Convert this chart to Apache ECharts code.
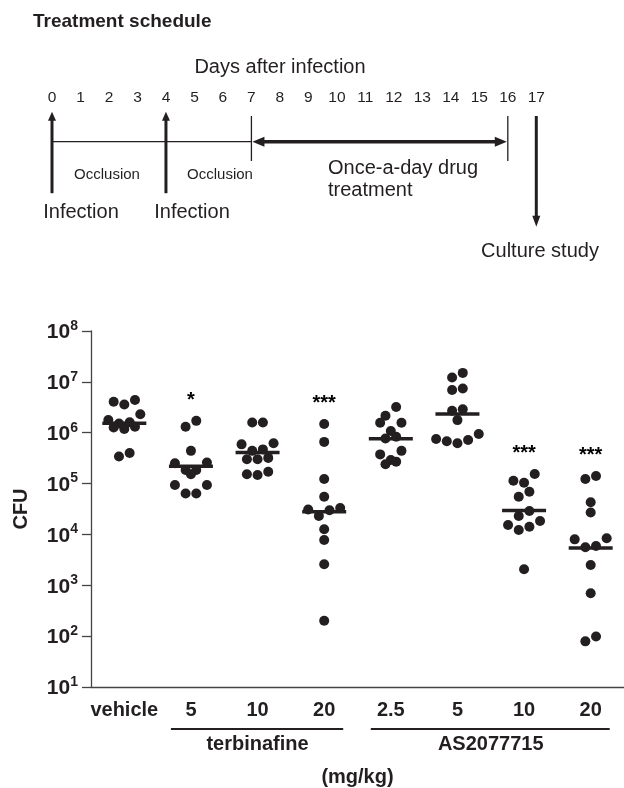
<!DOCTYPE html>
<html>
<head>
<meta charset="utf-8">
<script src="https://cdn.jsdelivr.net/npm/echarts/dist/echarts.min.js"></script>
<style>
  html, body { margin: 0; padding: 0; background: #fff; }
  #main { width: 624px; height: 788px; }
</style>
</head>
<body>
<div id="main"></div>
<script>
// data
var categories = ['vehicle', '5', '10', '20', '2.5', '5', '10', '20'];
var vehicle = [4.05e6, 4.4e6, 3.6e6, 2.3e6, 1.77e6, 1.6e6, 1.52e6, 1.31e6, 1.27e6, 1.18e6, 4.0e5, 3.4e5];
var terb5 = [1.71e6, 1.31e6, 4.4e5, 2.6e5, 2.5e5, 1.85e5, 1.85e5, 1.52e5, 9.4e4, 9.4e4, 6.4e4, 6.4e4];
var terb10 = [1.59e6, 1.59e6, 6.2e5, 5.9e5, 4.7e5, 4.4e5, 3.2e5, 3.0e5, 3.0e5, 1.71e5, 1.52e5, 1.47e5];
var terb20 = [1.48e6, 6.6e5, 1.23e5, 5.5e4, 3.3e4, 3.1e4, 3.0e4, 2.3e4, 1.26e4, 7.8e3, 2.6e3, 200];
var as2_5 = [3.2e6, 2.15e6, 1.57e6, 1.57e6, 1.08e6, 8.3e5, 7.7e5, 4.4e5, 3.75e5, 2.9e5, 2.7e5, 2.4e5];
var as5 = [1.5e7, 1.22e7, 7.4e6, 6.9e6, 2.9e6, 2.7e6, 1.77e6, 9.4e5, 7.5e5, 7.2e5, 6.8e5, 6.2e5];
var as10 = [1.54e5, 1.14e5, 1.04e5, 6.9e4, 5.5e4, 2.9e4, 2.3e4, 1.84e4, 1.53e4, 1.42e4, 1.22e4, 2.07e3];
var as20 = [1.41e5, 1.23e5, 4.3e4, 2.7e4, 8.4e3, 8.0e3, 5.9e3, 5.6e3, 2.5e3, 700, 98, 79];
var significance = ['', '*', '', '***', '', '', '***', '***'];
var groupNames = ['terbinafine', 'AS2077715'];
var groupFirst = [1, 4];
var groupLast = [3, 7];

// schedule (days after infection)
var days = ['0', '1', '2', '3', '4', '5', '6', '7', '8', '9', '10', '11', '12', '13', '14', '15', '16', '17'];
var infectionDays = [0, 4];
var occlusionSpan = [0, 7];
var treatmentSpan = [7, 16];
var cultureDay = 17;

var FONT = '"Liberation Sans", Arial, Helvetica, sans-serif';
var INK = '#231f20';
var all = [vehicle, terb5, terb10, terb20, as2_5, as5, as10, as20];

// prism-like column scatter: points that fall in one row are spread side by side
var BIN = 0.196;  // dot height in decades
var DX = 0.16;    // dot spacing in category units
function swarm(values, i) {
  var pts = values.map(function (v) { return { v: v, l: Math.log10(v) }; })
    .sort(function (a, b) { return b.l - a.l; });
  var out = [];
  var k = 0;
  while (k < pts.length) {
    var bin = [pts[k]];
    var j = k + 1;
    while (j < pts.length && pts[k].l - pts[j].l < BIN) { bin.push(pts[j]); j++; }
    bin.sort(function (a, b) { return a.l - b.l; });
    var n = bin.length, slots = [];
    for (var s = 0; s < n; s++) slots.push((s - (n - 1) / 2) * DX);
    slots.sort(function (a, b) { return Math.abs(a) - Math.abs(b) || a - b; });
    bin.forEach(function (p, q) { out.push([i + slots[q], p.v]); });
    k = j;
  }
  return out;
}

function geoMean(values) {
  var s = 0;
  values.forEach(function (v) { s += Math.log10(v); });
  return Math.pow(10, s / values.length);
}

var dots = [];
all.forEach(function (g, i) { dots = dots.concat(swarm(g, i)); });
var means = all.map(function (g, i) { return [i, geoMean(g)]; });
var stars = [];
significance.forEach(function (s, i) {
  if (s) stars.push({ name: s, value: [i, Math.max.apply(null, all[i])] });
});

var myChart = echarts.init(document.getElementById('main'));

var option = {
  animation: false,
  backgroundColor: '#fff',
  textStyle: { fontFamily: FONT, color: INK },
  grid: [
    { left: 91, top: 331, width: 534.5, height: 356.5 },
    { left: 52, top: 112, width: 484.3, height: 29.7 }
  ],
  xAxis: [
    {
      gridIndex: 0, type: 'category', data: categories, boundaryGap: true,
      axisLine: { onZero: false, lineStyle: { color: '#444', width: 1.3 } },
      axisTick: { alignWithLabel: true, length: 9, lineStyle: { color: '#444', width: 1.3 } },
      axisLabel: { interval: 0, margin: 13, fontSize: 20, fontWeight: 'bold', color: INK, fontFamily: FONT },
      name: '(mg/kg)', nameLocation: 'middle', nameGap: 80,
      nameTextStyle: { fontSize: 20, fontWeight: 'bold', color: INK, fontFamily: FONT }
    },
    { gridIndex: 0, type: 'value', min: -0.5, max: 7.5, show: false },
    {
      gridIndex: 1, type: 'category', data: days, boundaryGap: false, position: 'top',
      axisLine: { show: false }, axisTick: { show: false },
      axisLabel: { interval: 0, margin: 6, fontSize: 15.5, color: INK, fontFamily: FONT }
    }
  ],
  yAxis: [
    {
      gridIndex: 0, type: 'log', logBase: 10, min: 10, max: 1e8, splitNumber: 7,
      axisLine: { show: true, onZero: false, lineStyle: { color: '#444', width: 1.3 } },
      axisTick: { show: true, length: 9, lineStyle: { color: '#444', width: 1.3 } },
      splitLine: { show: false },
      axisLabel: {
        margin: 13,
        formatter: function (v) { return '{b|10}{s|' + Math.round(Math.log10(v)) + '}'; },
        rich: {
          b: { fontSize: 21, fontWeight: 'bold', color: INK, fontFamily: FONT, verticalAlign: 'bottom' },
          s: { fontSize: 14, fontWeight: 'bold', color: INK, fontFamily: FONT, verticalAlign: 'bottom', padding: [0, 0, 10, 0] }
        }
      },
      name: 'CFU', nameLocation: 'middle', nameRotate: 90, nameGap: 60,
      nameTextStyle: { fontSize: 20, fontWeight: 'bold', color: INK, fontFamily: FONT }
    },
    { gridIndex: 1, type: 'value', min: 0, max: 1, show: false }
  ],
  graphic: [
    { type: 'text', x: 33, y: 22, style: { text: 'Treatment schedule', font: 'bold 19px ' + FONT, fill: INK, align: 'left', verticalAlign: 'middle' } },
    { type: 'text', x: 280, y: 67, style: { text: 'Days after infection', font: '20px ' + FONT, fill: INK, align: 'center', verticalAlign: 'middle' } },
    { type: 'text', x: 107, y: 175, style: { text: 'Occlusion', font: '15px ' + FONT, fill: INK, align: 'center', verticalAlign: 'middle' } },
    { type: 'text', x: 220, y: 175, style: { text: 'Occlusion', font: '15px ' + FONT, fill: INK, align: 'center', verticalAlign: 'middle' } },
    { type: 'text', x: 81, y: 212, style: { text: 'Infection', font: '20px ' + FONT, fill: INK, align: 'center', verticalAlign: 'middle' } },
    { type: 'text', x: 192, y: 212, style: { text: 'Infection', font: '20px ' + FONT, fill: INK, align: 'center', verticalAlign: 'middle' } },
    { type: 'text', x: 328, y: 168, style: { text: 'Once-a-day drug', font: '20px ' + FONT, fill: INK, align: 'left', verticalAlign: 'middle' } },
    { type: 'text', x: 328, y: 190, style: { text: 'treatment', font: '20px ' + FONT, fill: INK, align: 'left', verticalAlign: 'middle' } },
    { type: 'text', x: 540, y: 251, style: { text: 'Culture study', font: '20px ' + FONT, fill: INK, align: 'center', verticalAlign: 'middle' } }
  ],
  series: [
    {
      type: 'scatter', xAxisIndex: 1, yAxisIndex: 0, data: dots,
      symbolSize: 10, itemStyle: { color: INK, opacity: 1 }, silent: true
    },
    {
      type: 'scatter', xAxisIndex: 1, yAxisIndex: 0, data: means,
      symbol: 'rect', symbolSize: [44, 3.5], itemStyle: { color: INK, opacity: 1 }, z: 3, silent: true
    },
    {
      type: 'scatter', xAxisIndex: 1, yAxisIndex: 0, data: stars,
      symbolSize: 1, itemStyle: { color: 'rgba(0,0,0,0)', opacity: 1 }, silent: true,
      label: { show: true, position: 'top', distance: 10, formatter: '{b}', fontSize: 20, fontWeight: 'bold', color: '#000', opacity: 1, fontFamily: FONT }
    },
    {
      // group underlines and drug names below the axis
      type: 'custom', xAxisIndex: 1, yAxisIndex: 0, clip: false, silent: true,
      data: groupNames.map(function (n, i) { return [(groupFirst[i] + groupLast[i]) / 2, 10]; }),
      renderItem: function (params, api) {
        var i = params.dataIndex;
        var a = api.coord([groupFirst[i], 10]);
        var b = api.coord([groupLast[i], 10]);
        var y = a[1] + 42;
        return {
          type: 'group',
          children: [
            { type: 'line', shape: { x1: a[0] - 20, y1: y, x2: b[0] + 19, y2: y }, style: { stroke: INK, lineWidth: 2 } },
            { type: 'text', x: (a[0] + b[0]) / 2, y: y + 15, style: { text: groupNames[i], font: 'bold 20px ' + FONT, fill: INK, align: 'center', verticalAlign: 'middle' } }
          ]
        };
      }
    },
    {
      // treatment schedule arrows
      type: 'custom', xAxisIndex: 2, yAxisIndex: 1, clip: false, silent: true,
      data: [[0, 0]],
      renderItem: function (params, api) {
        function px(d) { return api.coord([d, 0])[0]; }
        var base = api.coord([0, 0])[1];
        var kids = [];
        function line(x1, y1, x2, y2, w) {
          kids.push({ type: 'line', shape: { x1: x1, y1: y1, x2: x2, y2: y2 }, style: { stroke: INK, lineWidth: w } });
        }
        function head(pts) {
          kids.push({ type: 'polygon', shape: { points: pts }, style: { fill: INK } });
        }
        line(px(occlusionSpan[0]), base, px(occlusionSpan[1]), base, 1.3);
        infectionDays.forEach(function (d) {
          var x = px(d);
          line(x, base + 51.5, x, base - 22, 3);
          head([[x, base - 30], [x - 4, base - 21], [x + 4, base - 21]]);
        });
        treatmentSpan.forEach(function (d) {
          var x = px(d);
          line(x, base - 25.7, x, base + 19.3, 1.3);
        });
        var t0 = px(treatmentSpan[0]) + 1, t1 = px(treatmentSpan[1]) - 1;
        line(t0 + 10, base, t1 - 10, base, 3.5);
        head([[t0, base], [t0 + 12, base - 5], [t0 + 12, base + 5]]);
        head([[t1, base], [t1 - 12, base - 5], [t1 - 12, base + 5]]);
        var c = px(cultureDay);
        line(c, base - 25.7, c, base + 76, 3);
        head([[c, base + 85], [c - 4, base + 74], [c + 4, base + 74]]);
        return { type: 'group', children: kids };
      }
    }
  ]
};

myChart.setOption(option);
</script>
</body>
</html>
